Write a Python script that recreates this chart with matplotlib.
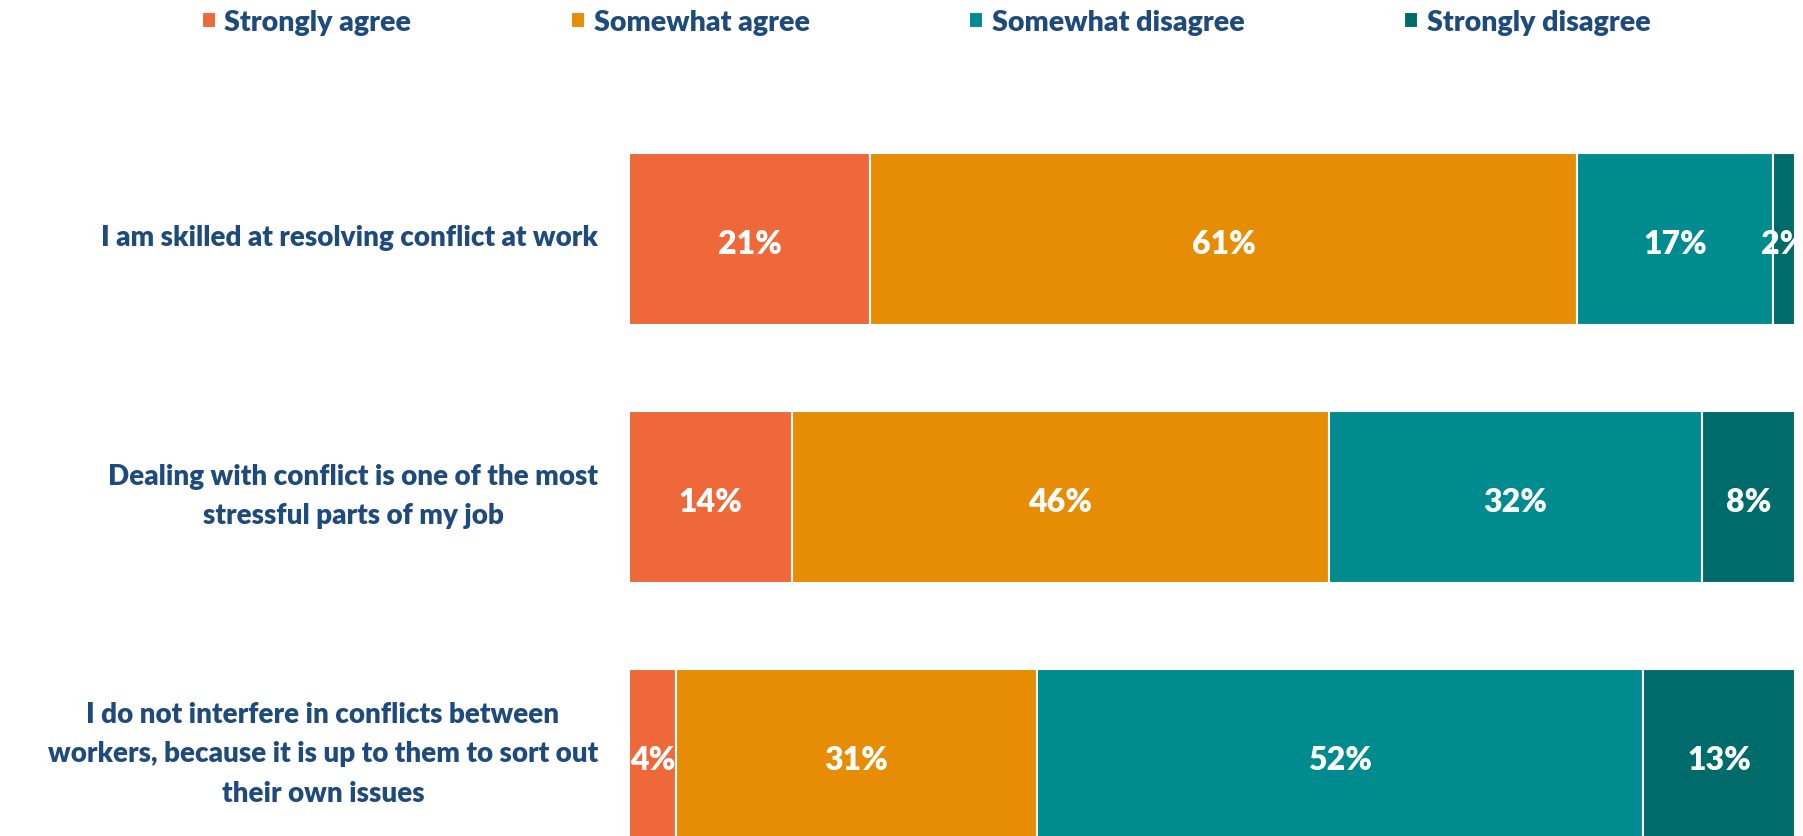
import numpy as np
import matplotlib.pyplot as plt

categories = [
    "I am skilled at resolving conflict at work",
    "Dealing with conflict is one of the most\nstressful parts of my job",
    "I do not interfere in conflicts between\nworkers, because it is up to them to sort out\ntheir own issues",
]
series = ["Strongly agree", "Somewhat agree", "Somewhat disagree", "Strongly disagree"]
# values; labels shown rounded
strongly_agree = [20.7, 14, 4]
somewhat_agree = [60.6, 46, 31]
somewhat_disagree = [16.8, 32, 52]
strongly_disagree = [1.9, 8, 13]

colors = ["#EE683A", "#E68D05", "#008B8E", "#006B6B"]
text_color = "#1F4A7C"

plt.rcParams['font.family'] = ['Lato', 'DejaVu Sans']

fig = plt.figure(figsize=(18.03, 8.37), dpi=100)
ax = fig.add_axes([629 / 1803, 0, (1795 - 629) / 1803, 1])

y = np.arange(len(categories))
left = np.zeros(len(categories))
handles = []
for name, vals, col in zip(series, [strongly_agree, somewhat_agree, somewhat_disagree, strongly_disagree], colors):
    vals = np.array(vals, dtype=float)
    b = ax.barh(y + 0.006, vals, left=left, height=0.668, color=col, edgecolor='white', linewidth=1.5, label=name)
    handles.append(b)
    for yi, l, v in zip(y, left, vals):
        ax.text(l + v / 2, yi + 0.025, f"{int(round(v))}%", ha='center', va='center', color='white',
                fontsize=23, fontweight='heavy', clip_on=True)
    left += vals

ax.set_xlim(0, 100)
ax.set_ylim(2.32, -0.924)
ax.axis('off')

for yi, cat in zip(y, categories):
    fig.text(598 / 1803, 1 - (238.5 + 258 * yi) / 837, cat, ha='right', va='center',
             multialignment='center', color=text_color, fontsize=20, fontweight='heavy',
             linespacing=1.62)

fig.legend(handles=handles, labels=series, loc='center', bbox_to_anchor=(926 / 1803, 1 - 23 / 837),
           ncol=4, frameon=False, prop={'size': 20.5, 'weight': 'heavy'},
           handlelength=0.5, handleheight=0.5, handletextpad=0.3, columnspacing=5.6,
           labelcolor=text_color)

fig.savefig('out.png', dpi=100)
